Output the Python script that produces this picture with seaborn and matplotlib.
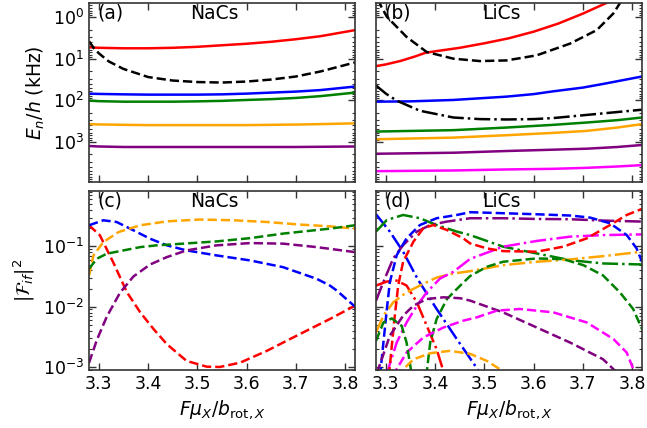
import matplotlib
matplotlib.use("Agg")
import matplotlib.pyplot as plt
import seaborn as sns

# ---- panel (a) NaCs energies ----
a_x = [3.28, 3.30, 3.35, 3.40, 3.45, 3.50, 3.55, 3.60, 3.65, 3.70, 3.75, 3.82]
a_red = [5.26, 5.41, 5.56, 5.56, 5.41, 5.12, 4.70, 4.32, 3.87, 3.36, 2.84, 2.03]
a_blue = [68.8, 70.0, 71.6, 72.8, 72.8, 72.8, 71.6, 68.8, 65.0, 61.5, 56.5, 46.5]
a_green = [101.7, 104.6, 107.6, 107.6, 107.6, 105.7, 102.8, 97.8, 93.5, 87.5, 79.1, 65.0]
a_orange = [374, 380, 389, 395, 395, 395, 395, 395, 389, 383, 374, 358]
a_purple = [1259, 1294, 1331, 1331, 1331, 1331, 1331, 1331, 1331, 1331, 1316, 1294]
a_dash_x = [3.28, 3.29, 3.30, 3.32, 3.35, 3.40, 3.45, 3.50, 3.55, 3.60, 3.65, 3.70, 3.75, 3.82]
a_dash = [3.76, 5.56, 7.36, 11.5, 17.5, 27.4, 33.3, 36.2, 37.2, 35.2, 31.5, 26.6, 20.1, 12.2]

# ---- panel (b) LiCs energies ----
b_red_x = [3.28, 3.30, 3.33, 3.36, 3.38, 3.40, 3.45, 3.50, 3.55, 3.60, 3.65, 3.70, 3.75, 3.80, 3.82]
b_red = [14.96, 13.6, 11.2, 8.69, 7.15, 6.57, 5.41, 4.21, 3.18, 2.21, 1.41, 0.81, 0.437, 0.195, 0.139]
b_dash_x = [3.28, 3.29, 3.302, 3.342, 3.383, 3.437, 3.491, 3.545, 3.606, 3.674, 3.728, 3.762, 3.775, 3.79]
b_dash = [0.272, 0.532, 0.967, 2.96, 6.84, 9.89, 11.3, 10.9, 8.23, 4.28, 2.03, 0.80, 0.457, 0.124]
b_blue_x = [3.28, 3.35, 3.437, 3.545, 3.60, 3.64, 3.70, 3.742, 3.82]
b_blue = [107.6, 105.7, 97.8, 81.3, 70.7, 60.5, 49.2, 40.0, 26.6]
b_dd_x = [3.28, 3.30, 3.322, 3.369, 3.437, 3.491, 3.545, 3.60, 3.64, 3.69, 3.82]
b_dd = [44.0, 68.8, 101.7, 178, 259, 283, 289, 283, 267, 235, 168]
b_low_x = [3.28, 3.437, 3.545, 3.64, 3.708, 3.77, 3.82]
b_green = [565, 523, 452, 389, 342, 300, 259]
b_orange = [865, 791, 692, 608, 544, 452, 374]
b_purple = [1936, 1830, 1663, 1545, 1462, 1331, 1190]
b_magenta = [5090, 4900, 4630, 4467, 4230, 3926, 3640]

# ---- panel (c) NaCs |F_if|^2 ----
c_red_x = [3.28, 3.302, 3.329, 3.357, 3.384, 3.411, 3.438, 3.478, 3.519, 3.546, 3.587, 3.641, 3.708, 3.769, 3.82]
c_red = [0.224, 0.153, 0.0547, 0.0173, 0.00804, 0.00425, 0.00239, 0.00126, 0.00101, 0.00100,
         0.00118, 0.00185, 0.00351, 0.00624, 0.0104]
c_blue_x = [3.28, 3.309, 3.336, 3.370, 3.404, 3.438, 3.478, 3.539, 3.607, 3.674, 3.742, 3.769, 3.783, 3.82]
c_blue = [0.224, 0.271, 0.254, 0.185, 0.134, 0.104, 0.0858, 0.0708, 0.0585, 0.0452, 0.029, 0.0224, 0.0185, 0.0100]
c_orange_x = [3.28, 3.289, 3.309, 3.340, 3.384, 3.438, 3.505, 3.573, 3.641, 3.708, 3.769, 3.82]
c_orange = [0.0329, 0.0708, 0.118, 0.173, 0.224, 0.26, 0.279, 0.271, 0.254, 0.23, 0.215, 0.197]
c_green_x = [3.28, 3.296, 3.316, 3.350, 3.384, 3.417, 3.471, 3.539, 3.607, 3.674, 3.769, 3.82]
c_green = [0.0425, 0.0624, 0.0756, 0.0858, 0.0973, 0.104, 0.111, 0.121, 0.137, 0.163, 0.197, 0.224]
c_purple_x = [3.28, 3.296, 3.316, 3.343, 3.370, 3.404, 3.438, 3.478, 3.539, 3.607, 3.674, 3.742, 3.82]
c_purple = [0.00117, 0.00282, 0.00681, 0.0171, 0.0316, 0.0501, 0.0664, 0.0858, 0.104, 0.1135, 0.111, 0.0973, 0.0803]

# ---- panel (d) LiCs |F_if|^2 ----
d_blue_dd_x = [3.28, 3.308, 3.335, 3.365, 3.403, 3.444, 3.484, 3.501]
d_blue_dd = [0.341, 0.176, 0.0816, 0.0282, 0.00916, 0.0029, 0.000973, 0.000585]
d_green_dd_x = [3.28, 3.302, 3.335, 3.369, 3.403, 3.444, 3.471, 3.538, 3.606, 3.674, 3.741, 3.82]
d_green_dd = [0.176, 0.274, 0.332, 0.293, 0.226, 0.176, 0.154, 0.0989, 0.0764, 0.0591, 0.0521, 0.0501]
d_blue_d_x = [3.288, 3.295, 3.302, 3.308, 3.322, 3.342, 3.369, 3.403, 3.444, 3.471, 3.538, 3.606,
              3.674, 3.714, 3.755, 3.789, 3.809, 3.82]
d_blue_d = [0.0007, 0.00254, 0.00916, 0.0254, 0.0716, 0.136, 0.226, 0.293, 0.332, 0.369, 0.355, 0.341,
            0.325, 0.301, 0.242, 0.154, 0.0926, 0.0556]
d_purple_dd_x = [3.28, 3.295, 3.315, 3.335, 3.363, 3.39, 3.424, 3.471, 3.538, 3.606, 3.674, 3.741, 3.82]
d_purple_dd = [0.0126, 0.0258, 0.0631, 0.105, 0.176, 0.226, 0.258, 0.293, 0.293, 0.285, 0.282, 0.268, 0.258]
d_red_d_x = [3.306, 3.317, 3.325, 3.335, 3.356, 3.376, 3.396, 3.424, 3.457, 3.471, 3.505, 3.538,
             3.606, 3.66, 3.708, 3.755, 3.789, 3.82]
d_red_d = [0.0007, 0.00585, 0.0224, 0.0556, 0.12, 0.2, 0.226, 0.187, 0.136, 0.112, 0.0926, 0.0835,
           0.0816, 0.0989, 0.136, 0.226, 0.332, 0.419]
d_red_dd_x = [3.28, 3.302, 3.322, 3.342, 3.363, 3.383, 3.403, 3.42]
d_red_dd = [0.0224, 0.0261, 0.0271, 0.0224, 0.0118, 0.00482, 0.00197, 0.0007]
d_orange_dd_x = [3.28, 3.295, 3.315, 3.342, 3.376, 3.403, 3.437, 3.471, 3.538, 3.606, 3.674, 3.741, 3.82]
d_orange_dd = [0.00373, 0.00708, 0.0118, 0.0173, 0.0239, 0.0304, 0.0355, 0.0388, 0.0488, 0.0556, 0.0607, 0.0689, 0.0816]
d_magenta_dd_x = [3.300, 3.322, 3.342, 3.363, 3.383, 3.41, 3.437, 3.471, 3.538, 3.606, 3.674, 3.741, 3.82]
d_magenta_dd = [0.0007, 0.00254, 0.00547, 0.0104, 0.0173, 0.0293, 0.0379, 0.0619, 0.0989, 0.123, 0.145, 0.154, 0.158]
d_green_d_x = [3.382, 3.39, 3.403, 3.424, 3.451, 3.471, 3.505, 3.538, 3.606, 3.66, 3.701, 3.741, 3.775, 3.802, 3.82]
d_green_d = [0.0007, 0.00254, 0.00624, 0.0134, 0.0224, 0.0322, 0.0459, 0.0556, 0.0631, 0.0614, 0.0488,
             0.0329, 0.0173, 0.00916, 0.00425]
d_purple_d_x = [3.282, 3.308, 3.335, 3.356, 3.383, 3.417, 3.451, 3.471, 3.538, 3.606, 3.674, 3.741, 3.777]
d_purple_d = [0.0008, 0.00329, 0.00708, 0.0104, 0.0134, 0.0143, 0.0138, 0.0126, 0.00804, 0.00452, 0.00254, 0.00134, 0.0007]
d_magenta_d_x = [3.313, 3.342, 3.376, 3.417, 3.457, 3.484, 3.525, 3.572, 3.64, 3.708, 3.762, 3.789, 3.808]
d_magenta_d = [0.0007, 0.00173, 0.00308, 0.00452, 0.00585, 0.00663, 0.00858, 0.00916, 0.00804, 0.00547, 0.0029, 0.00173, 0.0007]
d_green_d2_x = [3.28, 3.295, 3.312, 3.332, 3.342, 3.353]
d_green_d2 = [0.00271, 0.00547, 0.00638, 0.00482, 0.00254, 0.0007]
d_orange_d_x = [3.321, 3.356, 3.39, 3.43, 3.471, 3.505, 3.554]
d_orange_d = [0.0007, 0.00134, 0.00169, 0.00185, 0.00165, 0.00126, 0.0007]

LW = 1.8

sns.set_style("ticks")
plt.rcParams["font.family"] = ["DejaVu Sans"]
plt.rcParams["mathtext.fontset"] = "dejavusans"
plt.rcParams["text.color"] = "black"
plt.rcParams["axes.labelcolor"] = "black"
plt.rcParams["xtick.labelcolor"] = "black"
plt.rcParams["ytick.labelcolor"] = "black"


def draw(ax, x, y, color, ls="-"):
    sns.lineplot(x=x, y=y, ax=ax, color=color, linestyle=ls, lw=LW,
                 estimator=None, sort=False, legend=False)


fig, axes = plt.subplots(2, 2, figsize=(6.47, 4.28), dpi=100, sharex=True, sharey="row")
fig.subplots_adjust(left=0.1376, right=0.9923, top=0.993, bottom=0.1355, wspace=0.079, hspace=0.05)
ax_a, ax_b = axes[0]
ax_c, ax_d = axes[1]

for ax in axes.flat:
    ax.set_yscale("log")

# (a)
draw(ax_a, a_x, a_red, "red")
draw(ax_a, a_dash_x, a_dash, "black", "--")
draw(ax_a, a_x, a_blue, "blue")
draw(ax_a, a_x, a_green, "green")
draw(ax_a, a_x, a_orange, "orange")
draw(ax_a, a_x, a_purple, "purple")

# (b)
draw(ax_b, b_red_x, b_red, "red")
draw(ax_b, b_dash_x, b_dash, "black", "--")
draw(ax_b, b_blue_x, b_blue, "blue")
draw(ax_b, b_dd_x, b_dd, "black", "-.")
draw(ax_b, b_low_x, b_green, "green")
draw(ax_b, b_low_x, b_orange, "orange")
draw(ax_b, b_low_x, b_purple, "purple")
draw(ax_b, b_low_x, b_magenta, "magenta")

# (c)
draw(ax_c, c_red_x, c_red, "red", "--")
draw(ax_c, c_blue_x, c_blue, "blue", "--")
draw(ax_c, c_orange_x, c_orange, "orange", "--")
draw(ax_c, c_green_x, c_green, "green", "--")
draw(ax_c, c_purple_x, c_purple, "purple", "--")

# (d)
draw(ax_d, d_blue_dd_x, d_blue_dd, "blue", "-.")
draw(ax_d, d_green_dd_x, d_green_dd, "green", "-.")
draw(ax_d, d_purple_dd_x, d_purple_dd, "purple", "-.")
draw(ax_d, d_red_dd_x, d_red_dd, "red", "-.")
draw(ax_d, d_orange_dd_x, d_orange_dd, "orange", "-.")
draw(ax_d, d_magenta_dd_x, d_magenta_dd, "magenta", "-.")
draw(ax_d, d_blue_d_x, d_blue_d, "blue", "--")
draw(ax_d, d_red_d_x, d_red_d, "red", "--")
draw(ax_d, d_green_d_x, d_green_d, "green", "--")
draw(ax_d, d_purple_d_x, d_purple_d, "purple", "--")
draw(ax_d, d_magenta_d_x, d_magenta_d, "magenta", "--")
draw(ax_d, d_green_d2_x, d_green_d2, "green", "--")
draw(ax_d, d_orange_d_x, d_orange_d, "orange", "--")

ax_a.set_xlim(3.28, 3.82)
ax_a.set_ylim(9.3e3, 0.45)
ax_c.set_ylim(8.9e-4, 0.83)
ax_a.set_xticks([3.3, 3.4, 3.5, 3.6, 3.7, 3.8])

for ax in axes.flat:
    ax.tick_params(which="both", direction="in", top=True, right=True, labelsize=12.5,
                   color="0.2", labelcolor="black")
    ax.tick_params(which="major", length=5, width=1)
    ax.tick_params(which="minor", length=2.5, width=0.8)
    for sp in ax.spines.values():
        sp.set_color("0.2")
        sp.set_linewidth(1.2)
    ax.set_xlabel("")
    ax.set_ylabel("")

xlab = r"$F\mu_X/b_{\mathrm{rot},X}$"
ax_a.set_ylabel(r"$E_n/h$ (kHz)", fontsize=13.5)
ax_c.set_ylabel(r"$|\mathcal{F}_{if}|^2$", fontsize=13.5)
ax_c.set_xlabel(xlab, fontsize=13.5)
ax_d.set_xlabel(xlab, fontsize=13.5)

for ax, tag, mol in [(ax_a, "(a)", "NaCs"), (ax_b, "(b)", "LiCs"),
                     (ax_c, "(c)", "NaCs"), (ax_d, "(d)", "LiCs")]:
    ax.text(0.03, 0.995, tag, transform=ax.transAxes, ha="left", va="top", fontsize=13.5)
    ax.text(0.47, 0.995, mol, transform=ax.transAxes, ha="center", va="top", fontsize=13.5)

fig.savefig("out.png", dpi=100)
